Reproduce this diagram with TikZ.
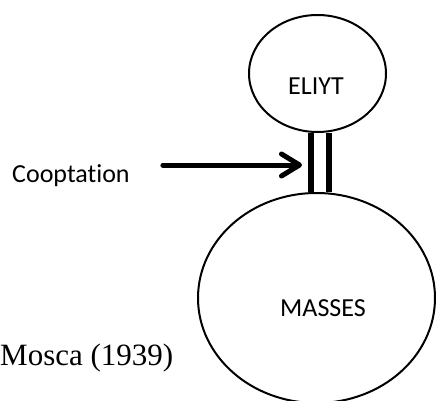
\documentclass[tikz,border=0pt]{standalone}
\usepackage{fontspec}
\setmainfont[Ligatures=CommonOff]{Carlito}
\newfontfamily\moscafont{Liberation Serif}
\usetikzlibrary{shapes, arrows.meta, positioning}

\begin{document}
\begin{tikzpicture}[x=1pt, y=-1pt,
        group/.style={draw, ellipse, line width=2pt, inner sep=0pt},
        lbl/.style={font=\fontsize{26}{30}\selectfont, inner sep=0pt},
        bar/.style={line width=6pt},
        coarrow/.style={line width=5pt, line cap=round, -{Straight Barb[length=18pt, width=22pt, round]}}
    ]
        \useasboundingbox (0,0) rectangle (436,401);
        % the two groups
        \node[group, minimum width=137pt, minimum height=117pt] (eliyt) at (317.5,73.5) {};
        \node[group, minimum width=237pt, minimum height=210pt] (masses) at (316.5,298) {};
        \node[lbl] (eliytlbl) at ([xshift=-1.5pt, yshift=-12.5pt]eliyt.center) {ELIYT};
        \node[lbl] (masseslbl) at ([xshift=6.5pt, yshift=-10pt]masses.center) {MASSES};
        % link between them
        \coordinate (barl) at ([xshift=-6.5pt]eliyt.south);
        \coordinate (barr) at ([xshift=11.5pt]eliyt.south);
        \draw[bar] (barl) -- (barl |- masses.north);
        \draw[bar] (barr) -- (barr |- masses.north);
        % cooptation
        \node[lbl, anchor=base west] (coopt) at (12,182) {Cooptation};
        \coordinate (cotip) at (302,165);
        \draw[coarrow] ([xshift=33pt]coopt.east |- cotip) -- (cotip);
        \node[anchor=base west, inner sep=0pt, font=\moscafont\fontsize{31}{36}\selectfont] (mosca) at (0,365) {Mosca (1939)};
\end{tikzpicture}
\end{document}
